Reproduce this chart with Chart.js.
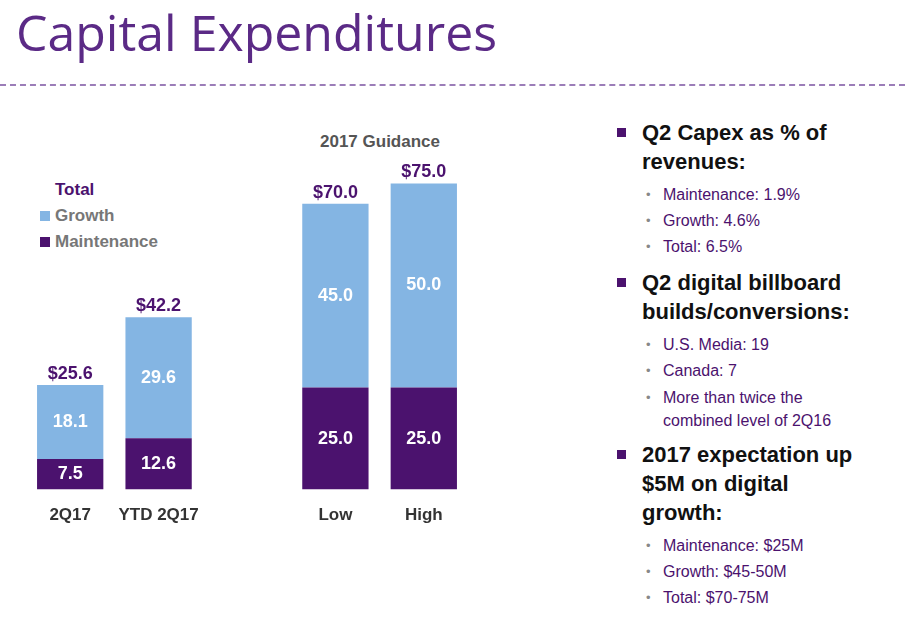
<!DOCTYPE html>
<html><head><meta charset="utf-8">
<script src="https://cdn.jsdelivr.net/npm/chart.js@4"></script>
<style>
body{margin:0;width:905px;height:632px;background:#fff;position:relative;overflow:hidden;font-family:"Liberation Sans",Arial,sans-serif}
#title{position:absolute;left:16px;top:-2px;font-family:"Open Sans",sans-serif;font-size:50px;color:#5b2a86;font-weight:400}
#rule{position:absolute;left:0;top:84px;width:905px;border-top:2px dashed #9b7db8}
#wrap{position:absolute;left:26px;top:163px;width:442px;height:371px}
#legend{position:absolute;left:40px;top:177px;font-size:17px;font-weight:bold;line-height:26px}
.sq{display:inline-block;width:10px;height:10px;margin-right:5px}
#guid{position:absolute;left:300px;top:132px;width:160px;text-align:center;font-size:17px;font-weight:bold;color:#555}
#side{position:absolute;left:615px;top:110px;width:290px}
.h{position:relative;padding-left:27px;font-size:22px;font-weight:bold;color:#111;line-height:29px;margin-top:8px}
.h:before{content:"";position:absolute;left:2px;top:10px;width:9px;height:9px;background:#4b126e}
ul{margin:6px 0 4px 0;padding-left:48px;list-style:none}
li{position:relative;font-size:16px;color:#4b126e;line-height:26px}
li.two{line-height:23px;padding-top:2px}
li:before{content:"•";position:absolute;left:-17px;color:#888;font-size:13px}
</style></head><body>
<div id="title">Capital Expenditures</div>
<div id="rule"></div>
<div id="guid">2017 Guidance</div>
<div id="legend">
<div style="color:#4b126e;padding-left:15px">Total</div>
<div style="color:#777"><span class="sq" style="background:#84b5e3"></span>Growth</div>
<div style="color:#777"><span class="sq" style="background:#4b126e"></span>Maintenance</div>
</div>
<div id="wrap"><canvas id="c"></canvas></div>
<div id="side">
<div class="h">Q2 Capex as % of<br>revenues:</div>
<ul><li>Maintenance: 1.9%</li><li>Growth: 4.6%</li><li>Total: 6.5%</li></ul>
<div class="h">Q2 digital billboard<br>builds/conversions:</div>
<ul><li>U.S. Media: 19</li><li>Canada: 7</li><li class="two">More than twice the<br>combined level of 2Q16</li></ul>
<div class="h">2017 expectation up<br>$5M on digital<br>growth:</div>
<ul><li>Maintenance: $25M</li><li>Growth: $45-50M</li><li>Total: $70-75M</li></ul>
</div>
<script>
const categories = ['2Q17', 'YTD 2Q17', '', 'Low', 'High'];
const maintenance = [7.5, 12.6, null, 25.0, 25.0];
const growth = [18.1, 29.6, null, 45.0, 50.0];
const totals = [25.6, 42.2, null, 70.0, 75.0];

const labelPlugin = {
  id: 'labels',
  afterDatasetsDraw(chart) {
    const ctx = chart.ctx;
    ctx.save();
    ctx.font = 'bold 18px "Liberation Sans", Arial';
    ctx.textAlign = 'center';
    ctx.textBaseline = 'middle';
    chart.data.datasets.forEach((ds, i) => {
      chart.getDatasetMeta(i).data.forEach((bar, j) => {
        if (ds.data[j] == null) return;
        ctx.fillStyle = '#fff';
        ctx.fillText(ds.data[j].toFixed(1), bar.x, (bar.y + bar.base) / 2);
      });
    });
    const top = chart.getDatasetMeta(1).data;
    ctx.fillStyle = '#4b126e';
    ctx.textBaseline = 'bottom';
    totals.forEach((t, j) => {
      if (t == null) return;
      ctx.fillText('$' + t.toFixed(1), top[j].x, top[j].y - 2);
    });
    ctx.restore();
  }
};

new Chart(document.getElementById('c'), {
  type: 'bar',
  data: {
    labels: categories,
    datasets: [
      { label: 'Maintenance', data: maintenance, backgroundColor: '#4b126e', barPercentage: 0.75, categoryPercentage: 1 },
      { label: 'Growth', data: growth, backgroundColor: '#84b5e3', barPercentage: 0.75, categoryPercentage: 1 }
    ]
  },
  plugins: [labelPlugin],
  options: {
    responsive: true,
    maintainAspectRatio: false,
    animation: false,
    layout: { padding: 0 },
    plugins: { legend: { display: false }, tooltip: { enabled: false } },
    scales: {
      x: {
        stacked: true,
        grid: { display: false },
        border: { display: false },
        ticks: { padding: 8, color: '#333', font: { size: 17, weight: 'bold', family: '"Liberation Sans", Arial' } }
      },
      y: { stacked: true, display: false, min: 0, max: 80 }
    }
  }
});
</script>
</body></html>
